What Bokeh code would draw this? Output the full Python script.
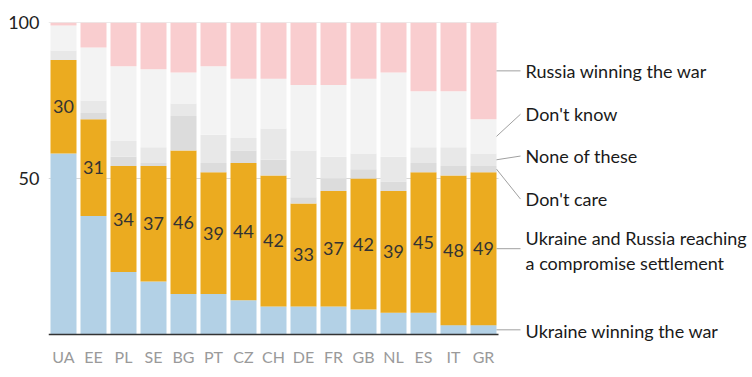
from bokeh.plotting import figure
from bokeh.models import Range1d, FixedTicker, ColumnDataSource
from bokeh.core.properties import value
from bokeh.embed import file_html
from bokeh.resources import INLINE

countries = ["UA", "EE", "PL", "SE", "BG", "PT", "CZ", "CH", "DE", "FR", "GB", "NL", "ES", "IT", "GR"]
ukraine_win = [58, 38, 20, 17, 13, 13, 11, 9, 9, 9, 8, 7, 7, 3, 3]
compromise = [30, 31, 34, 37, 46, 39, 44, 42, 33, 37, 42, 39, 45, 48, 49]
dont_care = [0, 2, 3, 1, 11, 3, 4, 5, 2, 4, 3, 3, 3, 3, 2]
none_of_these = [3, 4, 5, 5, 4, 9, 4, 10, 15, 7, 5, 8, 5, 6, 4]
dont_know = [8, 17, 24, 25, 10, 22, 19, 16, 21, 23, 24, 27, 18, 18, 11]
russia_win = [1, 8, 14, 15, 16, 14, 18, 18, 20, 20, 18, 16, 22, 22, 31]

series_names = ["Ukraine winning the war",
                "Ukraine and Russia reaching\na compromise settlement",
                "Don't care", "None of these", "Don't know", "Russia winning the war"]
y_ticks = [50, 100]

FONT = "Lato"
colors = ["#b3d1e6", "#ebab20", "#dcdcdc", "#e8e8e8", "#f3f3f3", "#f9cdcf"]
fields = ["ukraine_win", "compromise", "dont_care", "none_of_these", "dont_know", "russia_win"]
series = [ukraine_win, compromise, dont_care, none_of_these, dont_know, russia_win]

n = len(countries)
idx = list(range(n))
bar_w = 26 / 30
W, H = 750, 375
left, top = 48, 22
px_per_cat = 30
px_per_unit = 3.12
frame_w = W - left
frame_h = H - top
x_end = -0.5 + frame_w / px_per_cat
y_start = 100 - frame_h / px_per_unit

src = ColumnDataSource(dict(x=idx, **{f: s for f, s in zip(fields, series)}))

p = figure(width=W, height=H, x_range=Range1d(-0.5, x_end), y_range=Range1d(y_start, 100),
           output_backend="svg", toolbar_location=None,
           min_border_left=left, min_border_right=0, min_border_top=top, min_border_bottom=0)
p.outline_line_color = None
p.xgrid.visible = False
p.ygrid.visible = False
p.xaxis.visible = False

# gridlines within bar area
p.segment(x0=[-0.5] * len(y_ticks), x1=[n - 0.5] * len(y_ticks), y0=y_ticks, y1=y_ticks,
          line_color="#d8d8d8", line_width=1)

p.vbar_stack(fields, x="x", width=bar_w, color=colors, source=src, line_width=0)

# baseline
p.segment(x0=[-0.5], x1=[n - 0.5], y0=[0], y1=[0], line_color="#333333", line_width=1.5)

# country labels under the baseline
p.text(x=idx, y=[-7.0] * n, text=countries, text_align="center", text_baseline="middle",
       text_font=value(FONT), text_font_size="16px", text_color="#9a9a9a")

# value labels in compromise segment
lab_y = [u + c / 2 for u, c in zip(ukraine_win, compromise)]
p.text(x=idx, y=lab_y, text=[str(c) for c in compromise], text_align="center",
       text_baseline="middle", text_font=value(FONT), text_font_size="18px", text_color="#333333")

# legend leader lines from the last bar
last = n - 1
cum = 0
centers = []
for s in series:
    centers.append(cum + s[last] / 2)
    cum += s[last]
label_y = [1.0, 27.0, 43.4, 57.2, 70.6, 84.3]
x0 = last + bar_w / 2
x1 = x0 + 0.8
end_y = [centers[0], centers[1], label_y[2], label_y[3], label_y[4], centers[5]]
p.segment(x0=[x0] * 6, x1=[x1] * 6, y0=centers, y1=end_y, line_color="#a0a0a0", line_width=1)

tx, ty, tt = [], [], []
for name, yy in zip(series_names, label_y):
    lines = name.split("\n")
    if len(lines) == 1:
        tx.append(x1 + 0.17); ty.append(yy); tt.append(lines[0])
    else:
        tx += [x1 + 0.17] * 2; ty += [yy + 4.0, yy - 4.1]; tt += lines
p.text(x=tx, y=ty, text=tt, text_align="left", text_baseline="middle",
       text_font=value(FONT), text_font_size="18px", text_color="#1a1a1a")

# y axis
p.yaxis.ticker = FixedTicker(ticks=y_ticks)
p.yaxis.axis_line_color = None
p.yaxis.major_tick_line_color = None
p.yaxis.minor_tick_line_color = None
p.yaxis.major_label_standoff = 3
p.yaxis.major_label_text_font = FONT
p.yaxis.major_label_text_font_size = "18px"
p.yaxis.major_label_text_color = "#222222"

open("out.html", "w").write(file_html(p, INLINE))
